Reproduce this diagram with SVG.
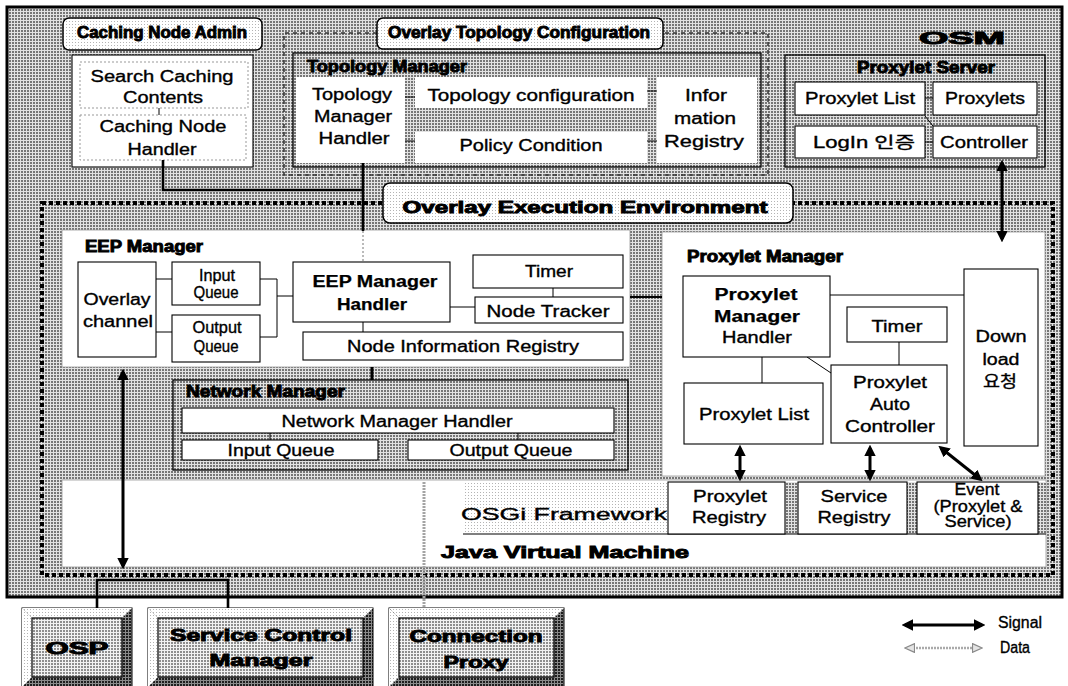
<svg xmlns="http://www.w3.org/2000/svg" width="1068" height="686" viewBox="0 0 1068 686">
<defs>
  <!-- halftone fills -->
  <pattern id="hg" width="3" height="3" patternUnits="userSpaceOnUse"><rect width="3" height="3" fill="#e2e2e2"/><rect width="2" height="2" fill="#767676"/></pattern>
  <pattern id="hl" width="3" height="3" patternUnits="userSpaceOnUse"><rect width="3" height="3" fill="#fff"/><rect width="1" height="1" fill="#b4b4b4"/></pattern>
  <pattern id="hm" width="3" height="3" patternUnits="userSpaceOnUse"><rect width="3" height="3" fill="#f2f2f2"/><rect width="2" height="2" fill="#8e8e8e"/></pattern>
  <pattern id="hk" width="3" height="3" patternUnits="userSpaceOnUse"><rect width="3" height="3" fill="#8a8a8a"/><rect width="2" height="2" fill="#1e1e1e"/></pattern>
  <marker id="ah" viewBox="0 0 10 10" refX="7" refY="5" markerWidth="3.8" markerHeight="3.8" orient="auto-start-reverse"><path d="M0,0 L10,5 L0,10 z" fill="#000"/></marker>
  <marker id="dh" viewBox="0 0 10 10" refX="7" refY="5" markerWidth="4.5" markerHeight="4.5" orient="auto-start-reverse"><path d="M0,1 L9,5 L0,9 z" fill="#e4e4e4" stroke="#8a8a8a" stroke-width="1.2"/></marker>
</defs>
<style>
  .n{font-family:"Liberation Sans",Arial,sans-serif;font-size:16px;fill:#000;stroke:#000;stroke-width:.35;text-anchor:middle}
  .b{font-weight:bold;stroke-width:.25}
  .h{font-weight:bold;stroke-width:.9}
  .l{text-anchor:start}
  .k{font-family:"Liberation Sans","Noto Sans CJK KR",sans-serif}
  .wb{fill:#fff;stroke:#000;stroke-width:1.1}
  .wn{fill:#fff;stroke:none}
  .gb{fill:url(#hg);stroke:#000;stroke-width:1.3}
  .lab{fill:url(#hl);stroke:#000;stroke-width:1.5}
  .ln{stroke:#000;stroke-width:1;fill:none}
  .thk{stroke:#000;stroke-width:2.6;fill:none}
  .sig{stroke:#000;stroke-width:3;fill:none}
  .dat{stroke:#a4a4a4;stroke-width:3;fill:none;stroke-dasharray:2 1}
</style>

<!-- OSM frame -->
<g id="osm">
  <rect x="7" y="7" width="1055" height="590" fill="url(#hg)" stroke="#000" stroke-width="3"/>
  <text class="n h" x="962" y="44" font-size="33" fill="#000" stroke-width="2" textLength="86" lengthAdjust="spacingAndGlyphs">OSM</text>
</g>

<!-- Overlay Execution Environment dotted frame -->
<g id="oee">
  <rect x="42" y="203" width="1011" height="372" fill="none" stroke="#000" stroke-width="4" stroke-dasharray="4 3"/>
</g>

<!-- Overlay Topology Configuration dashed frame -->
<g id="otc">
  <path d="M377,33 H284 V175 H768 V33 H663" fill="none" stroke="#333" stroke-width="1.5" stroke-dasharray="4 4"/>
  <rect class="lab" x="377" y="18" width="286" height="31" rx="6"/>
  <text class="n h" x="519" y="38" font-size="14" textLength="262" lengthAdjust="spacingAndGlyphs">Overlay Topology Configuration</text>
</g>

<!-- Caching Node Admin -->
<g id="caching-node-admin">
  <rect class="lab" x="63" y="18" width="199" height="32" rx="6"/>
  <text class="n h" x="162" y="38" font-size="14" textLength="170" lengthAdjust="spacingAndGlyphs">Caching Node Admin</text>
  <rect class="wb" x="72" y="55" width="181" height="112" stroke-width="1.4"/>
  <rect x="80" y="62" width="168" height="46" fill="none" stroke="#999" stroke-dasharray="2 2"/>
  <rect x="80" y="115" width="166" height="45" fill="none" stroke="#999" stroke-dasharray="2 2"/>
  <line class="ln" x1="159" y1="108" x2="159" y2="115" stroke="#777"/>
  <text class="n" x="162" y="82" font-size="17" textLength="143" lengthAdjust="spacingAndGlyphs">Search Caching</text>
  <text class="n" x="163" y="103" font-size="17" textLength="80" lengthAdjust="spacingAndGlyphs">Contents</text>
  <text class="n" x="163" y="132" font-size="17" textLength="127" lengthAdjust="spacingAndGlyphs">Caching Node</text>
  <text class="n" x="162" y="155" font-size="17" textLength="69" lengthAdjust="spacingAndGlyphs">Handler</text>
</g>

<!-- Topology Manager -->
<g id="topology-manager">
  <rect class="gb" x="293" y="53" width="468" height="114" stroke-width="1"/>
  <text class="n h l" x="307" y="72" font-size="15" textLength="160" lengthAdjust="spacingAndGlyphs">Topology Manager</text>
  <rect class="wn" x="296" y="77" width="109" height="86"/>
  <rect class="wn" x="415" y="77" width="232" height="31"/>
  <rect class="wn" x="415" y="132" width="232" height="31"/>
  <rect class="wn" x="657" y="77" width="100" height="86"/>
  <line class="ln" x1="405" y1="97" x2="415" y2="97"/>
  <line class="ln" x1="405" y1="141" x2="415" y2="141"/>
  <line class="ln" x1="647" y1="91" x2="657" y2="91"/>
  <line class="ln" x1="647" y1="141" x2="657" y2="141"/>
  <text class="n" x="352" y="100" font-size="17" textLength="80" lengthAdjust="spacingAndGlyphs">Topology</text>
  <text class="n" x="353" y="122" font-size="17" textLength="78" lengthAdjust="spacingAndGlyphs">Manager</text>
  <text class="n" x="354" y="144" font-size="17" textLength="71" lengthAdjust="spacingAndGlyphs">Handler</text>
  <text class="n" x="531" y="101" font-size="17" textLength="207" lengthAdjust="spacingAndGlyphs">Topology configuration</text>
  <text class="n" x="531" y="151" font-size="17" textLength="143" lengthAdjust="spacingAndGlyphs">Policy Condition</text>
  <text class="n" x="706" y="101" font-size="17" textLength="42" lengthAdjust="spacingAndGlyphs">Infor</text>
  <text class="n" x="705" y="124" font-size="17" textLength="62" lengthAdjust="spacingAndGlyphs">mation</text>
  <text class="n" x="704" y="147" font-size="17" textLength="80" lengthAdjust="spacingAndGlyphs">Registry</text>
</g>

<!-- Proxylet Server -->
<g id="proxylet-server">
  <rect class="gb" x="785" y="55" width="260" height="112" stroke-width="1"/>
  <text class="n h" x="926" y="73" font-size="14" textLength="138" lengthAdjust="spacingAndGlyphs">Proxylet Server</text>
  <line class="ln" x1="925" y1="98" x2="933" y2="98"/>
  <line class="ln" x1="925" y1="142" x2="933" y2="142"/>
  <line class="ln" x1="925" y1="116" x2="933" y2="126"/>
  <rect class="wb" x="795" y="82" width="130" height="33"/>
  <rect class="wb" x="933" y="82" width="104" height="33"/>
  <rect class="wb" x="795" y="126" width="130" height="32"/>
  <rect class="wb" x="933" y="126" width="104" height="32"/>
  <text class="n" x="860" y="104" textLength="110" lengthAdjust="spacingAndGlyphs">Proxylet List</text>
  <text class="n" x="985" y="104" textLength="80" lengthAdjust="spacingAndGlyphs">Proxylets</text>
  <text class="n k" x="864" y="148" textLength="102" lengthAdjust="spacingAndGlyphs">LogIn 인증</text>
  <text class="n" x="984" y="148" textLength="88" lengthAdjust="spacingAndGlyphs">Controller</text>
</g>

<!-- Overlay Execution Environment label -->
<g id="oee-label">
  <rect class="lab" x="383" y="183" width="410" height="40" rx="7" stroke="#444"/>
  <text class="n h" x="585" y="213" font-size="22" stroke-width="1.1" textLength="365" lengthAdjust="spacingAndGlyphs">Overlay Execution Environment</text>
</g>

<!-- EEP Manager -->
<g id="eep-manager">
  <rect x="62" y="230" width="568" height="137" fill="#fff" stroke="#999" stroke-width=".8"/>
  <text class="n h l" x="85" y="252" font-size="15" stroke-width=".5" textLength="118" lengthAdjust="spacingAndGlyphs">EEP Manager</text>
  <line class="ln" x1="156" y1="279" x2="172" y2="279"/>
  <line class="ln" x1="156" y1="332" x2="172" y2="332"/>
  <path class="ln" d="M260,279 H277 V337 H260 M277,296 H293"/>
  <line class="ln" x1="450" y1="307" x2="475" y2="307"/>
  <line class="ln" x1="553" y1="288" x2="553" y2="297"/>
  <line class="ln" x1="363" y1="322" x2="363" y2="332"/>
  <rect class="wb" x="78" y="262" width="78" height="95"/>
  <rect class="wb" x="172" y="262" width="88" height="43"/>
  <rect class="wb" x="172" y="315" width="88" height="47"/>
  <rect class="wb" x="293" y="262" width="157" height="60"/>
  <rect class="wb" x="473" y="255" width="150" height="33"/>
  <rect class="wb" x="475" y="297" width="148" height="26"/>
  <rect class="wb" x="303" y="332" width="320" height="28"/>
  <text class="n" x="117" y="305" font-size="17" textLength="67" lengthAdjust="spacingAndGlyphs">Overlay</text>
  <text class="n" x="118" y="327" font-size="17" textLength="70" lengthAdjust="spacingAndGlyphs">channel</text>
  <text class="n" x="217" y="281" font-size="14" textLength="36" lengthAdjust="spacingAndGlyphs">Input</text>
  <text class="n" x="216" y="298" font-size="14" textLength="45" lengthAdjust="spacingAndGlyphs">Queue</text>
  <text class="n" x="217" y="333" font-size="14" textLength="49" lengthAdjust="spacingAndGlyphs">Output</text>
  <text class="n" x="216" y="352" font-size="14" textLength="45" lengthAdjust="spacingAndGlyphs">Queue</text>
  <text class="n b" x="375" y="287" textLength="125" lengthAdjust="spacingAndGlyphs">EEP Manager</text>
  <text class="n b" x="372" y="310" textLength="70" lengthAdjust="spacingAndGlyphs">Handler</text>
  <text class="n" x="549" y="277" textLength="48" lengthAdjust="spacingAndGlyphs">Timer</text>
  <text class="n" x="548" y="317" textLength="123" lengthAdjust="spacingAndGlyphs">Node Tracker</text>
  <text class="n" x="463" y="352" textLength="232" lengthAdjust="spacingAndGlyphs">Node Information Registry</text>
</g>

<!-- Network Manager -->
<g id="network-manager">
  <rect class="gb" x="173" y="380" width="455" height="90"/>
  <text class="n h l" x="186" y="397" font-size="15" textLength="159" lengthAdjust="spacingAndGlyphs">Network Manager</text>
  <line class="ln" x1="270" y1="433" x2="270" y2="440"/>
  <line class="ln" x1="518" y1="433" x2="518" y2="440"/>
  <rect class="wb" x="182" y="408" width="432" height="25"/>
  <rect class="wb" x="182" y="440" width="196" height="20"/>
  <rect class="wb" x="408" y="440" width="206" height="20"/>
  <text class="n" x="397" y="427" font-size="17" textLength="231" lengthAdjust="spacingAndGlyphs">Network Manager Handler</text>
  <text class="n" x="281" y="456" font-size="17" textLength="107" lengthAdjust="spacingAndGlyphs">Input Queue</text>
  <text class="n" x="511" y="456" font-size="17" textLength="123" lengthAdjust="spacingAndGlyphs">Output Queue</text>
</g>

<!-- Proxylet Manager -->
<g id="proxylet-manager">
  <rect x="662" y="232" width="383" height="244" fill="#fff" stroke="#999" stroke-width=".8"/>
  <text class="n h l" x="687" y="262" font-size="15" stroke-width=".5" textLength="156" lengthAdjust="spacingAndGlyphs">Proxylet Manager</text>
  <line class="ln" x1="830" y1="295" x2="964" y2="295"/>
  <line class="ln" x1="762" y1="357" x2="762" y2="383"/>
  <line class="ln" x1="807" y1="357" x2="831" y2="373"/>
  <line class="ln" x1="899" y1="342" x2="899" y2="365"/>
  <rect class="wb" x="683" y="276" width="147" height="81"/>
  <rect class="wb" x="847" y="307" width="100" height="35"/>
  <rect class="wb" x="831" y="365" width="116" height="78"/>
  <rect class="wb" x="684" y="383" width="139" height="61"/>
  <rect class="wb" x="964" y="269" width="74" height="177"/>
  <text class="n b" x="756" y="300" font-size="17" textLength="83" lengthAdjust="spacingAndGlyphs">Proxylet</text>
  <text class="n b" x="757" y="322" font-size="17" textLength="86" lengthAdjust="spacingAndGlyphs">Manager</text>
  <text class="n" x="757" y="343" font-size="17" textLength="70" lengthAdjust="spacingAndGlyphs">Handler</text>
  <text class="n" x="897" y="332" font-size="17" textLength="51" lengthAdjust="spacingAndGlyphs">Timer</text>
  <text class="n" x="890" y="388" font-size="17" textLength="74" lengthAdjust="spacingAndGlyphs">Proxylet</text>
  <text class="n" x="890" y="410" font-size="17" textLength="40" lengthAdjust="spacingAndGlyphs">Auto</text>
  <text class="n" x="890" y="432" font-size="17" textLength="90" lengthAdjust="spacingAndGlyphs">Controller</text>
  <text class="n" x="754" y="420" font-size="17" textLength="110" lengthAdjust="spacingAndGlyphs">Proxylet List</text>
  <text class="n" x="1001" y="342" font-size="17" textLength="51" lengthAdjust="spacingAndGlyphs">Down</text>
  <text class="n" x="1001" y="365" font-size="17" textLength="37" lengthAdjust="spacingAndGlyphs">load</text>
  <text class="n k" x="1000" y="387" font-size="15" textLength="34" lengthAdjust="spacingAndGlyphs">요청</text>
</g>

<!-- Java Virtual Machine with OSGi Framework -->
<g id="jvm">
  <rect x="62" y="480" width="984" height="87" fill="#fff" stroke="#999" stroke-width=".8"/>
  <rect x="463" y="482" width="205" height="52" fill="url(#hl)"/>
  <rect x="785" y="482" width="13" height="52" fill="url(#hg)"/>
  <rect x="907" y="482" width="10" height="52" fill="url(#hg)"/>
  <rect x="1038" y="482" width="8" height="52" fill="url(#hg)"/>
  <line x1="463" y1="534" x2="1046" y2="534" stroke="#000" stroke-width="1"/>
  <rect class="wb" x="668" y="482" width="117" height="52"/>
  <rect class="wb" x="798" y="482" width="109" height="52"/>
  <rect class="wb" x="917" y="482" width="121" height="52"/>
  <text class="n" x="564" y="520" font-size="23" stroke-width=".5" textLength="206" lengthAdjust="spacingAndGlyphs">OSGi Framework</text>
  <text class="n" x="730" y="502" font-size="17" textLength="74" lengthAdjust="spacingAndGlyphs">Proxylet</text>
  <text class="n" x="729" y="523" font-size="17" textLength="74" lengthAdjust="spacingAndGlyphs">Registry</text>
  <text class="n" x="854" y="502" font-size="17" textLength="67" lengthAdjust="spacingAndGlyphs">Service</text>
  <text class="n" x="854" y="523" font-size="17" textLength="73" lengthAdjust="spacingAndGlyphs">Registry</text>
  <text class="n" x="977" y="495" font-size="15" stroke-width=".2" textLength="45" lengthAdjust="spacingAndGlyphs">Event</text>
  <text class="n" x="978" y="512" font-size="15" stroke-width=".2" textLength="89" lengthAdjust="spacingAndGlyphs">(Proxylet &amp;</text>
  <text class="n" x="978" y="527" font-size="15" stroke-width=".2" textLength="67" lengthAdjust="spacingAndGlyphs">Service)</text>
  <text class="n h l" x="441" y="558" font-size="21" stroke-width=".8" textLength="248" lengthAdjust="spacingAndGlyphs">Java Virtual Machine</text>
</g>

<!-- external blocks -->
<g id="osp">
  <rect x="22" y="608" width="110" height="79" fill="url(#hk)" stroke="#000"/>
  <polygon points="22,608 132,608 122,618 32,618" fill="url(#hl)"/>
  <polygon points="22,608 32,618 32,677 22,687" fill="url(#hl)"/>
  <rect x="32" y="618" width="90" height="59" fill="url(#hm)" stroke="#000" stroke-width="1.2"/>
  <text class="n h" x="77" y="654" font-size="29" stroke-width="2" textLength="63" lengthAdjust="spacingAndGlyphs">OSP</text>
</g>
<g id="service-control-manager">
  <rect x="148" y="608" width="225" height="79" fill="url(#hk)" stroke="#000"/>
  <polygon points="148,608 373,608 363,618 158,618" fill="url(#hl)"/>
  <polygon points="148,608 158,618 158,677 148,687" fill="url(#hl)"/>
  <rect x="158" y="618" width="205" height="59" fill="url(#hm)" stroke="#000" stroke-width="1.2"/>
  <text class="n h" x="261" y="641" font-size="21" stroke-width="1.7" textLength="182" lengthAdjust="spacingAndGlyphs">Service Control</text>
  <text class="n h" x="261" y="666" font-size="21" stroke-width="1.7" textLength="103" lengthAdjust="spacingAndGlyphs">Manager</text>
</g>
<g id="connection-proxy">
  <rect x="389" y="608" width="175" height="79" fill="url(#hk)" stroke="#000"/>
  <polygon points="389,608 564,608 554,618 399,618" fill="url(#hl)"/>
  <polygon points="389,608 399,618 399,677 389,687" fill="url(#hl)"/>
  <rect x="399" y="618" width="155" height="59" fill="url(#hm)" stroke="#000" stroke-width="1.2"/>
  <text class="n h" x="476" y="642" font-size="21" stroke-width="1.7" textLength="133" lengthAdjust="spacingAndGlyphs">Connection</text>
  <text class="n h" x="476" y="668" font-size="21" stroke-width="1.7" textLength="65" lengthAdjust="spacingAndGlyphs">Proxy</text>
</g>

<!-- connectors -->
<g id="connectors">
  <path class="thk" d="M163,160 V190 H363"/>
  <path class="thk" d="M363,163 V231"/>
  <path d="M363,231 V262" stroke="#777" stroke-width="1" stroke-dasharray="2 2" fill="none"/>
  <line class="sig" x1="1002" y1="163" x2="1002" y2="239" marker-start="url(#ah)" marker-end="url(#ah)"/>
  <line x1="630" y1="297" x2="662" y2="297" stroke="#000" stroke-width="2"/>
  <line x1="372" y1="367" x2="372" y2="380" stroke="#000" stroke-width="3"/>
  <line class="sig" x1="123" y1="372" x2="123" y2="566" marker-start="url(#ah)" marker-end="url(#ah)"/>
  <path class="thk" d="M97,608 V580 H228 V608" stroke-width="3"/>
  <line class="dat" x1="424" y1="482" x2="424" y2="608"/>
  <line class="sig" x1="740" y1="448" x2="740" y2="478" stroke-width="2.6" marker-start="url(#ah)" marker-end="url(#ah)"/>
  <line class="sig" x1="870" y1="448" x2="870" y2="478" stroke-width="2.6" marker-start="url(#ah)" marker-end="url(#ah)"/>
  <line class="sig" x1="941" y1="448" x2="980" y2="479" stroke-width="2.6" marker-start="url(#ah)" marker-end="url(#ah)"/>
</g>

<!-- legend -->
<g id="legend">
  <line class="sig" x1="905" y1="625" x2="982" y2="625" stroke-width="2.6" marker-start="url(#ah)" marker-end="url(#ah)"/>
  <text class="n l" x="998" y="628" font-size="14" stroke-width="0" textLength="44" lengthAdjust="spacingAndGlyphs">Signal</text>
  <line x1="907" y1="648" x2="980" y2="648" stroke="#aaa" stroke-width="2.4" stroke-dasharray="2 1" marker-start="url(#dh)" marker-end="url(#dh)"/>
  <text class="n l" x="1000" y="653" font-size="14" stroke-width="0" textLength="30" lengthAdjust="spacingAndGlyphs">Data</text>
</g>
</svg>
